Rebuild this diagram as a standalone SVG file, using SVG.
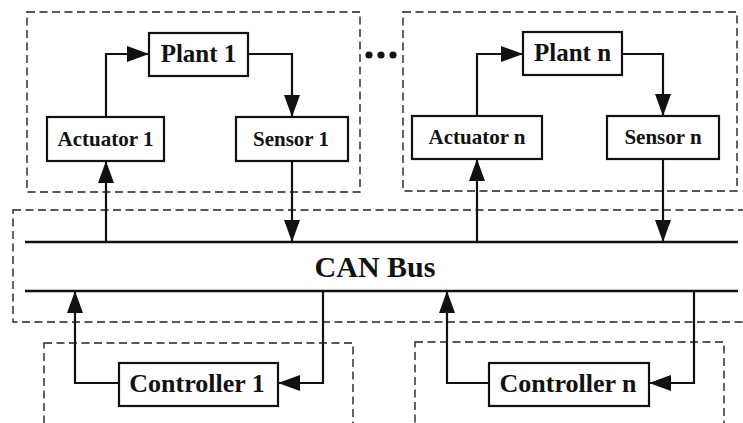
<svg xmlns="http://www.w3.org/2000/svg" width="743" height="423" viewBox="0 0 743 423">
<style>
.bg{fill:#fff}
.dash{fill:none;stroke:#222;stroke-width:1.4;stroke-dasharray:8 4.5}
.box{fill:#fff;stroke:#111;stroke-width:2.2}
.ln{fill:none;stroke:#111;stroke-width:2}
.bus{fill:none;stroke:#111;stroke-width:2.6}
.arr{fill:none;stroke:#111;stroke-width:2.2;marker-end:url(#ah)}
text{font-family:"Liberation Serif","Times New Roman",serif;font-weight:bold;fill:#111;text-anchor:middle}
.t21{font-size:21px}
.t25{font-size:25px}
.t26{font-size:26px}
.t30{font-size:30px}
</style>
<defs>
<marker id="ah" markerUnits="userSpaceOnUse" markerWidth="23" markerHeight="17" refX="22" refY="8" orient="auto">
<path d="M0,0 L22,8 L0,16 z" fill="#111"/>
</marker>
</defs>
<rect class="bg" x="0" y="0" width="743" height="423"/>
<g id="groups">
<rect class="dash" x="27" y="12" width="333" height="180"/>
<rect class="dash" x="403" y="12" width="334" height="179"/>
<rect class="dash" x="13" y="210" width="740" height="112"/>
<rect class="dash" x="44" y="343" width="309" height="100"/>
<rect class="dash" x="415" y="342" width="309" height="100"/>
</g>
<g id="dots" fill="#111">
<circle cx="369" cy="55" r="3.6"/>
<circle cx="381" cy="55" r="3.6"/>
<circle cx="393" cy="55" r="3.6"/>
</g>
<g id="connectors">
<line class="bus" x1="25" y1="242" x2="738" y2="242"/>
<line class="bus" x1="25" y1="291" x2="738" y2="291"/>
<path class="arr" d="M106,117 V54 H149"/>
<path class="arr" d="M248,54 H292 V117"/>
<path class="arr" d="M106,242 V161"/>
<path class="arr" d="M292,161 V242"/>
<path class="arr" d="M477,116 V54 H523"/>
<path class="arr" d="M622,54 H663 V116"/>
<path class="arr" d="M477,242 V159"/>
<path class="arr" d="M663,159 V242"/>
<path class="arr" d="M119,383 H75 V291"/>
<path class="arr" d="M323,291 V383 H278"/>
<path class="arr" d="M489,383 H447 V291"/>
<path class="arr" d="M694,291 V383 H649"/>
</g>
<g id="can-bus"><text class="t30" x="375" y="277">CAN Bus</text></g>
<g id="plant1"><rect class="box" x="149" y="33" width="99" height="43"/><text class="t25" x="198.5" y="62">Plant 1</text></g>
<g id="actuator1"><rect class="box" x="47" y="117" width="117" height="44"/><text class="t21" x="105.5" y="146">Actuator 1</text></g>
<g id="sensor1"><rect class="box" x="236" y="117" width="112" height="44"/><text class="t21" x="291" y="146">Sensor 1</text></g>
<g id="plantn"><rect class="box" x="523" y="32" width="99" height="43"/><text class="t25" x="572.5" y="61">Plant n</text></g>
<g id="actuatorn"><rect class="box" x="412" y="116" width="130" height="43"/><text class="t21" x="477" y="144">Actuator n</text></g>
<g id="sensorn"><rect class="box" x="607" y="116" width="112" height="43"/><text class="t21" x="663" y="144">Sensor n</text></g>
<g id="controller1"><rect class="box" x="119" y="363" width="159" height="43"/><text class="t26" x="197" y="392">Controller 1</text></g>
<g id="controllern"><rect class="box" x="489" y="363" width="160" height="43"/><text class="t26" x="568" y="392">Controller n</text></g>
</svg>
